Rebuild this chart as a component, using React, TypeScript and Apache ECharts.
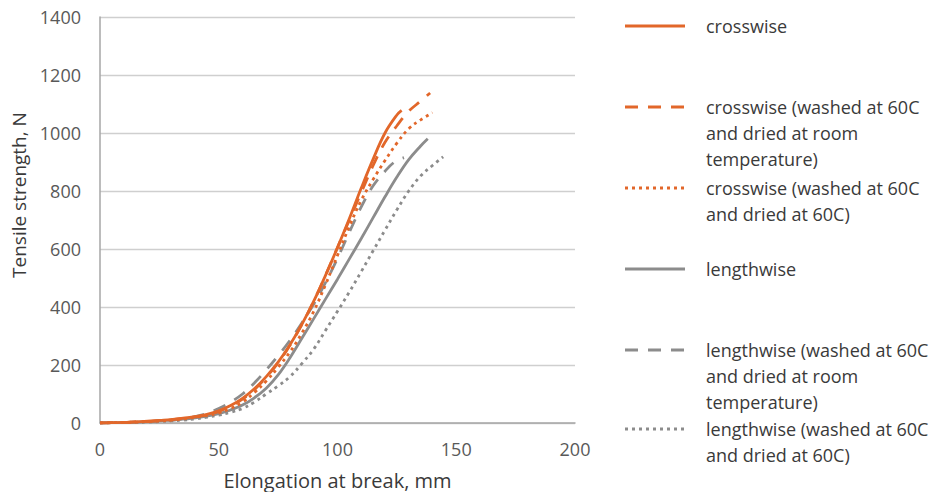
import React, { useEffect, useRef } from "react";
import * as echarts from "echarts";

const seriesNames = [
  "crosswise",
  "crosswise (washed at 60C and dried at room temperature)",
  "crosswise (washed at 60C and dried at 60C)",
  "lengthwise",
  "lengthwise (washed at 60C and dried at room temperature)",
  "lengthwise (washed at 60C and dried at 60C)",
];
const legendLabels = [
  "crosswise",
  "crosswise (washed at 60C\nand dried at room\ntemperature)",
  "crosswise (washed at 60C\nand dried at 60C)",
  "lengthwise",
  "lengthwise (washed at 60C\nand dried at room\ntemperature)",
  "lengthwise (washed at 60C\nand dried at 60C)",
];

const crossX = [0, 5, 10, 15, 20, 25, 30, 35, 40, 45, 50, 55, 60, 65, 70, 75, 80, 85, 90, 95, 100, 105, 110, 115, 120, 125, 127];
const crossY = [0, 1, 2, 4, 6, 9, 12, 17, 22, 30, 42, 60, 85, 118, 160, 210, 270, 340, 420, 510, 605, 705, 810, 910, 1000, 1062, 1078];

const crossRoomX = [0, 5, 10, 15, 20, 25, 30, 35, 40, 45, 50, 55, 60, 65, 70, 75, 80, 85, 90, 95, 100, 105, 110, 115, 120, 125, 130, 135, 139];
const crossRoomY = [0, 1, 2, 4, 5, 8, 11, 16, 21, 28, 40, 58, 82, 115, 158, 208, 268, 340, 420, 510, 605, 700, 795, 888, 968, 1025, 1075, 1110, 1138];

const crossHotX = [0, 5, 10, 15, 20, 25, 30, 35, 40, 45, 50, 55, 60, 65, 70, 75, 80, 85, 90, 95, 100, 105, 110, 115, 120, 125, 130, 135, 140];
const crossHotY = [0, 1, 2, 3, 5, 7, 10, 14, 20, 26, 35, 50, 72, 105, 145, 192, 245, 310, 385, 478, 578, 678, 768, 840, 905, 965, 1015, 1045, 1070];

const lengthX = [0, 5, 10, 15, 20, 25, 30, 35, 40, 45, 50, 55, 60, 65, 70, 75, 80, 85, 90, 95, 100, 105, 110, 115, 120, 125, 130, 135, 138];
const lengthY = [0, 1, 2, 3, 5, 7, 10, 13, 18, 24, 32, 45, 62, 87, 120, 166, 225, 292, 360, 428, 496, 566, 636, 708, 780, 848, 908, 955, 980];

const lengthRoomX = [0, 5, 10, 15, 20, 25, 30, 35, 40, 45, 50, 55, 60, 65, 70, 75, 80, 85, 90, 95, 100, 105, 110, 115, 120, 124, 128];
const lengthRoomY = [0, 1, 2, 3, 5, 7, 10, 15, 22, 33, 50, 72, 100, 138, 183, 232, 285, 345, 410, 485, 568, 658, 745, 818, 868, 900, 915];

const lengthHotX = [0, 5, 10, 15, 20, 25, 30, 35, 40, 45, 50, 55, 60, 65, 70, 75, 80, 85, 90, 95, 100, 105, 110, 115, 120, 125, 130, 135, 140, 144.5];
const lengthHotY = [0, 1, 1, 2, 3, 5, 7, 10, 14, 20, 27, 37, 50, 72, 100, 128, 160, 205, 255, 320, 385, 452, 522, 594, 665, 735, 800, 852, 888, 918];

const xTicks = { min: 0, max: 200, interval: 50 };
const yTicks = { min: 0, max: 1400, interval: 200 };

const ORANGE = "#E2672A";
const GRAY = "#8C8C8C";
const FONT = "Open Sans";

const zip = (xs: number[], ys: number[]) => xs.map((x, i) => [x, ys[i]]);

export default function App() {
  const ref = useRef<HTMLDivElement>(null);
  useEffect(() => {
    if (!ref.current) return;
    const chart = echarts.init(ref.current, null, { renderer: "svg" });
    const xs = [crossX, crossRoomX, crossHotX, lengthX, lengthRoomX, lengthHotX];
    const ys = [crossY, crossRoomY, crossHotY, lengthY, lengthRoomY, lengthHotY];
    const colors = [ORANGE, ORANGE, ORANGE, GRAY, GRAY, GRAY];
    const dashes: any[] = ["solid", [13, 10], [3, 4], "solid", [13, 10], [3, 4]];

    const series = seriesNames.map((name, i) => ({
      name,
      type: "line",
      data: zip(xs[i], ys[i]),
      smooth: 0.4,
      symbol: "none",
      lineStyle: { color: colors[i], width: 2.8, type: dashes[i] },
      itemStyle: { color: colors[i] },
      z: 10 - i,
    }));

    const iconX0 = 625;
    const iconX1 = 685;
    const textX = 706;
    const iconYs = [26, 107, 188, 269, 350, 429];
    const graphic: any[] = [];
    legendLabels.forEach((label, i) => {
      graphic.push({
        type: "line",
        shape: { x1: iconX0, y1: iconYs[i], x2: iconX1, y2: iconYs[i] },
        style: { stroke: colors[i], lineWidth: 3, lineDash: dashes[i] === "solid" ? null : dashes[i] },
      });
      graphic.push({
        type: "text",
        x: textX,
        y: iconYs[i] - 13,
        style: {
          text: label,
          fill: "#3A3A3A",
          font: `18px "${FONT}"`,
          lineHeight: 26,
          verticalAlign: "top",
          align: "left",
        },
      });
    });

    chart.setOption({
      animation: false,
      grid: { left: 100, right: 365, top: 17, bottom: 69, outerBoundsMode: "none" },
      xAxis: {
        type: "value",
        ...xTicks,
        name: "Elongation at break, mm",
        nameLocation: "middle",
        nameGap: 47,
        nameTextStyle: { fontFamily: FONT, fontSize: 20, color: "#3A3A3A" },
        axisLine: { show: true, lineStyle: { color: "#A6A6A6", width: 1.5 } },
        axisTick: { show: false },
        axisLabel: { fontFamily: FONT, fontSize: 18, color: "#595959", margin: 17 },
        splitLine: { show: false },
      },
      yAxis: {
        type: "value",
        ...yTicks,
        name: "Tensile strength, N",
        nameLocation: "middle",
        nameGap: 70,
        nameTextStyle: { fontFamily: FONT, fontSize: 19, color: "#3A3A3A", padding: [0, 0, 0, 50] },
        axisLine: { show: true, lineStyle: { color: "#A6A6A6", width: 1.5 } },
        axisTick: { show: false },
        axisLabel: {
          fontFamily: FONT,
          fontSize: 18,
          color: "#595959",
          margin: 19,
          formatter: (v: number) => String(v),
        },
        splitLine: { show: true, lineStyle: { color: "#CFCFCF", width: 1.3 } },
      },
      series,
      graphic,
    });
    return () => chart.dispose();
  }, []);
  return <div ref={ref} style={{ width: 940, height: 492, position: "absolute", left: 0, top: 0 }} />;
}
